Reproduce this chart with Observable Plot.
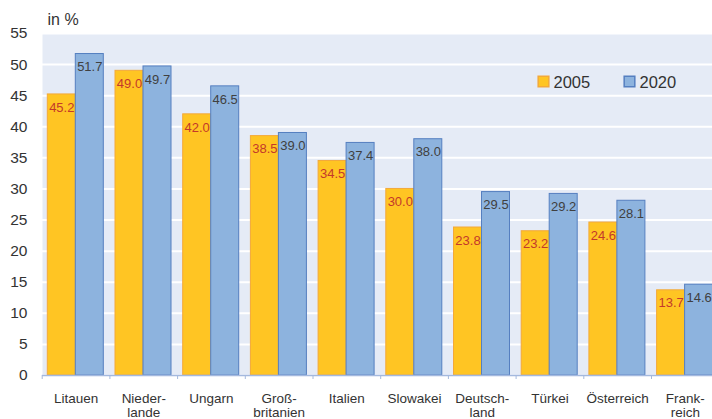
<!DOCTYPE html>
<html><head><meta charset="utf-8">
<script src="https://cdn.jsdelivr.net/npm/d3@7"></script>
<script src="https://cdn.jsdelivr.net/npm/@observablehq/plot@0.6"></script>
<style>
body{margin:0;background:#fff;overflow:hidden;font-family:"Liberation Sans",Arial,sans-serif}
#chart{width:712px;height:419px;overflow:hidden}
</style>
</head><body><div id="chart"></div>
<script>
const countries = ["Litauen","Nieder-\nlande","Ungarn","Groß-\nbritanien","Italien","Slowakei","Deutsch-\nland","Türkei","Österreich","Frank-\nreich"];
const years = ["2005","2020"];
const values2005 = [45.2,49.0,42.0,38.5,34.5,30.0,23.8,23.2,24.6,13.7];
const values2020 = [51.7,49.7,46.5,39.0,37.4,38.0,29.5,29.2,28.1,14.6];
const yTicks = [0,5,10,15,20,25,30,35,40,45,50,55];
const yLabel = "in %";

const colors = {"2005": {fill:"#FFC523", stroke:"#F3A93A", text:"#C4392A"},
                "2020": {fill:"#8DB3DE", stroke:"#557FC0", text:"#404040"}};

const d05 = countries.map((c,i)=>({country:c, year:years[0], value:values2005[i]}));
const d20 = countries.map((c,i)=>({country:c, year:years[1], value:values2020[i]}));

const band = 67.7, barW = 28, leftGap = 5.6;
const c05 = leftGap + barW/2 - band/2;
const c20 = leftGap + barW + barW/2 - band/2;

const chart = Plot.plot({
  width: 712, height: 419,
  marginTop: 33, marginBottom: 44, marginLeft: 42, marginRight: 0,
  style: {fontFamily: "'Liberation Sans', Arial, sans-serif", color: "#333", background: "white"},
  x: {type: "band", domain: countries, range: [41.7, 41.7 + band*countries.length], padding: 0, round: false},
  y: {domain: [0, 55]},
  marks: [
    Plot.frame({fill: "#E5EBF6", stroke: null}),
    Plot.gridY({ticks: yTicks, stroke: "white", strokeOpacity: 1, strokeWidth: 2}),
    Plot.barY(d05, {x: "country", y: "value", fill: colors["2005"].fill, stroke: colors["2005"].stroke, strokeWidth: 1,
      insetLeft: leftGap, insetRight: band - leftGap - barW}),
    Plot.barY(d20, {x: "country", y: "value", fill: colors["2020"].fill, stroke: colors["2020"].stroke, strokeWidth: 1,
      insetLeft: leftGap + barW, insetRight: band - leftGap - 2*barW}),
    Plot.text(d05, {x: "country", y: "value", text: d => d.value.toFixed(1), dx: c05, dy: 13,
      fill: colors["2005"].text, fontSize: 13}),
    Plot.text(d20, {x: "country", y: "value", text: d => d.value.toFixed(1), dx: c20, dy: 13,
      fill: colors["2020"].text, fontSize: 13}),
    Plot.ruleY([0], {stroke: "#A4B9DE", strokeWidth: 1.5}),
    Plot.axisX({tickSize: 4, tickFormat: () => "", dx: -band/2, stroke: "#A4B9DE", label: null}),
    Plot.axisX({tickSize: 0, tickPadding: 17, fontSize: 13.5, lineHeight: 1.07, fill: "#333", label: null}),
    Plot.axisY({ticks: yTicks, tickSize: 0, tickPadding: 15, fontSize: 15.5, fill: "#333", label: null}),
    Plot.text([yLabel], {frameAnchor: "top-left", dx: 5, dy: -14, text: d => d, textAnchor: "start",
      lineAnchor: "middle", fontSize: 16, fill: "#333"}),
    // legend
    Plot.dot([years[0]], {frameAnchor: "top-right", dx: -169, dy: 48, symbol: "square", r: 6,
      fill: colors["2005"].fill, stroke: colors["2005"].stroke}),
    Plot.text([years[0]], {frameAnchor: "top-right", dx: -159, dy: 49, text: d => d, textAnchor: "start",
      lineAnchor: "middle", fontSize: 16.5, fill: "#333"}),
    Plot.dot([years[1]], {frameAnchor: "top-right", dx: -83, dy: 48, symbol: "square", r: 6,
      fill: colors["2020"].fill, stroke: colors["2020"].stroke}),
    Plot.text([years[1]], {frameAnchor: "top-right", dx: -73, dy: 49, text: d => d, textAnchor: "start",
      lineAnchor: "middle", fontSize: 16.5, fill: "#333"})
  ]
});
document.getElementById("chart").append(chart);
</script>
</body></html>
